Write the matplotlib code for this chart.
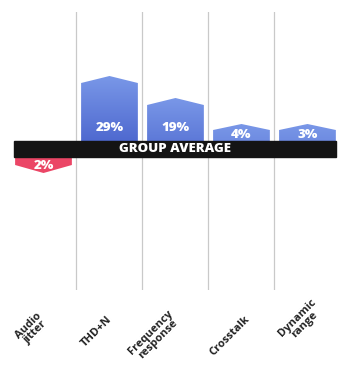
import matplotlib
matplotlib.use('Agg')
import matplotlib.pyplot as plt
import matplotlib.transforms as mtransforms
from matplotlib.path import Path
from matplotlib.patches import PathPatch
import numpy as np

# data
categories = ['Audio\njitter', 'THD+N', 'Frequency\nresponse', 'Crosstalk', 'Dynamic\nrange']
values = [-2, 29, 19, 4, 3]                 # % vs group average
bar_heights = [-24, 73, 51, 25, 25]         # drawn height of each bar (chart units)
band_label = 'GROUP AVERAGE'

plt.rcParams['font.family'] = ['Open Sans', 'DejaVu Sans']

fig = plt.figure(figsize=(3.43, 3.67), dpi=100)
ax = fig.add_axes([0.0306, 0.2098, 0.962, 0.7575])
ax.set_xlim(-0.5, 4.5)
ax.set_ylim(-141, 137)
ax.axis('off')

# column separators
for xs in [0.5, 1.5, 2.5, 3.5]:
    ax.axvline(xs, color='#c9c9c9', lw=0.9, zorder=1)

light = np.array([122, 152, 232]) / 255.
dark = np.array([72, 98, 204]) / 255.
red = '#eb4666'
w = 0.86

for i, (v, h) in enumerate(zip(values, bar_heights)):
    x0, x1 = i - w / 2, i + w / 2
    if h > 0:
        d = 7 if h > 40 else 6
        verts = [(x0, 0), (x0, h - d), (i, h), (x1, h - d), (x1, 0), (x0, 0)]
        path = Path(verts, [Path.MOVETO] + [Path.LINETO] * 4 + [Path.CLOSEPOLY])
        patch = PathPatch(path, facecolor='none', edgecolor='none')
        ax.add_patch(patch)
        ys = np.linspace(h, 0, 100)
        t = np.clip((h - ys) / 75., 0, 1)[:, None]
        col = light * (1 - t) + dark * t
        img = np.repeat(col[:, None, :], 2, axis=1)
        im = ax.imshow(img, extent=[x0, x1, 0, h], aspect='auto', zorder=2,
                       interpolation='bilinear')
        im.set_clip_path(patch)
        ty = 21 if h > 40 else 14
    else:
        verts = [(x0, 0), (x0, h + 8), (i, h), (x1, h + 8), (x1, 0), (x0, 0)]
        path = Path(verts, [Path.MOVETO] + [Path.LINETO] * 4 + [Path.CLOSEPOLY])
        ax.add_patch(PathPatch(path, facecolor=red, edgecolor='none', zorder=2))
        ty = -17
    ax.text(i, ty, '%d%%' % abs(v), color='white', fontsize=9.5, fontweight='heavy',
            ha='center', va='center', zorder=5)

# group average band
ax.axhspan(-8, 8, xmin=0.0106, xmax=0.986, color='#141414', zorder=4)
ax.text(2.0, 0, band_label, color='white', fontsize=9.5, fontweight='heavy',
        ha='center', va='center', zorder=5)

# rotated category labels
trans = mtransforms.blended_transform_factory(ax.transData, ax.transAxes)
label_dx = [-0.17, -0.2, -0.32, -0.18, -0.1]
label_y = [-0.14, -0.148, -0.166, -0.166, -0.112]
for i, c in enumerate(categories):
    ax.text(i + label_dx[i], label_y[i], c, transform=trans, rotation=45,
            ha='center', va='center', multialignment='center',
            fontsize=8, fontweight='bold', color='#222222', linespacing=0.85)

fig.savefig('out.png', dpi=100, facecolor='white')
